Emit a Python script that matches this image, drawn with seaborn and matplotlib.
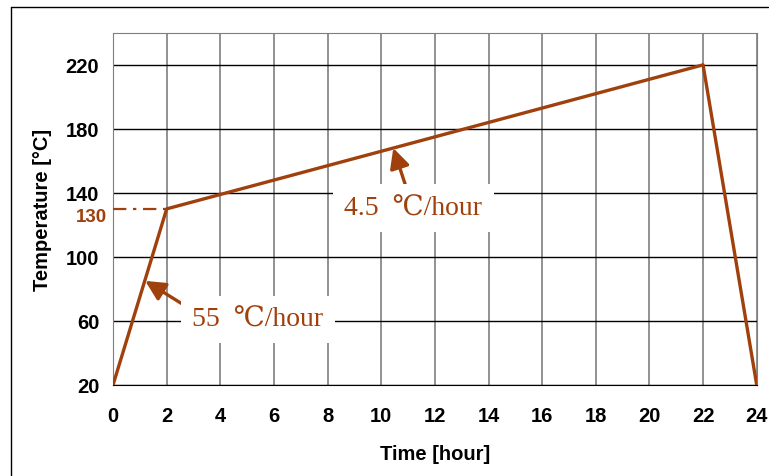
import matplotlib
matplotlib.use('Agg')
import matplotlib.pyplot as plt
import seaborn as sns
import pandas as pd
from matplotlib.lines import Line2D

# Datos del ciclo de curado
tiempo = [0, 2, 22, 24]
temperatura = [20, 130, 220, 20]
x_ticks = list(range(0, 25, 2))
y_ticks = [20, 60, 100, 140, 180, 220]

MARRON = '#A0400C'

sns.set_style('white')
plt.rcParams['font.family'] = ['Liberation Sans', 'DejaVu Sans']
plt.rcParams['text.color'] = 'black'
plt.rcParams['axes.labelcolor'] = 'black'

df = pd.DataFrame({'Tiempo': tiempo, 'Temperatura': temperatura})

fig = plt.figure(figsize=(7.69, 4.77), dpi=100)
ax = fig.add_axes([0.147, 0.191, 0.837, 0.738])

# Marco exterior (borde izquierdo y superior)
fig.add_artist(Line2D([0.0143, 0.0143], [0.0, 0.983], transform=fig.transFigure, color='black', lw=1))
fig.add_artist(Line2D([0.0143, 0.999], [0.983, 0.983], transform=fig.transFigure, color='black', lw=1))

ax.set_xlim(0, 24)
ax.set_ylim(20, 240)
ax.set_xticks(x_ticks)
ax.set_yticks(y_ticks)

for xv in x_ticks:
    ax.axvline(xv, color='#7f7f7f', lw=1.2, zorder=1)
for yv in y_ticks:
    ax.axhline(yv, color='black', lw=1.0, zorder=1)

sns.lineplot(data=df, x='Tiempo', y='Temperatura', color=MARRON, lw=2.4, ax=ax, zorder=5)

# Línea guía a 130
ax.plot([0, 2], [130, 130], color=MARRON, lw=1.6, ls=(0, (6, 3, 1.5, 3)), zorder=4, clip_on=False)
ax.text(-0.22, 125.5, '130', color=MARRON, fontsize=13.5, fontweight='bold',
        ha='right', va='center')

serif = ['Liberation Serif', 'DejaVu Serif']
caja = dict(boxstyle='square,pad=0.4', fc='white', ec='none')
ax.annotate('4.5  ℃/hour', xy=(10.45, 168), xytext=(11.2, 130.5),
            fontsize=20, family=serif, color=MARRON, ha='center', va='center',
            bbox=caja, zorder=6,
            arrowprops=dict(arrowstyle='-|>,head_width=0.3,head_length=0.6',
                            color=MARRON, lw=2.4, shrinkA=0, shrinkB=0,
                            relpos=(0.47, 0.95)))
ax.annotate('55  ℃/hour', xy=(1.2, 85), xytext=(5.4, 61),
            fontsize=20, family=serif, color=MARRON, ha='center', va='center',
            bbox=caja, zorder=6,
            arrowprops=dict(arrowstyle='-|>,head_width=0.3,head_length=0.6',
                            color=MARRON, lw=2.4, shrinkA=0, shrinkB=0,
                            relpos=(0.08, 0.6)))

for lado in ['left', 'top', 'right']:
    ax.spines[lado].set_color('#7f7f7f')
ax.spines['bottom'].set_color('black')

ax.tick_params(axis='both', direction='out', length=6, width=1, colors='black',
               labelsize=14.5, pad=4)
for lbl in ax.get_xticklabels() + ax.get_yticklabels():
    lbl.set_fontweight('bold')
ax.tick_params(axis='x', pad=9)

ax.set_xlabel('Time [hour]', fontsize=14.5, fontweight='bold', labelpad=14)
ax.set_ylabel('Temperature [°C]', fontsize=14.5, fontweight='bold', labelpad=10)

fig.savefig('out.png', dpi=100)
plt.close()
